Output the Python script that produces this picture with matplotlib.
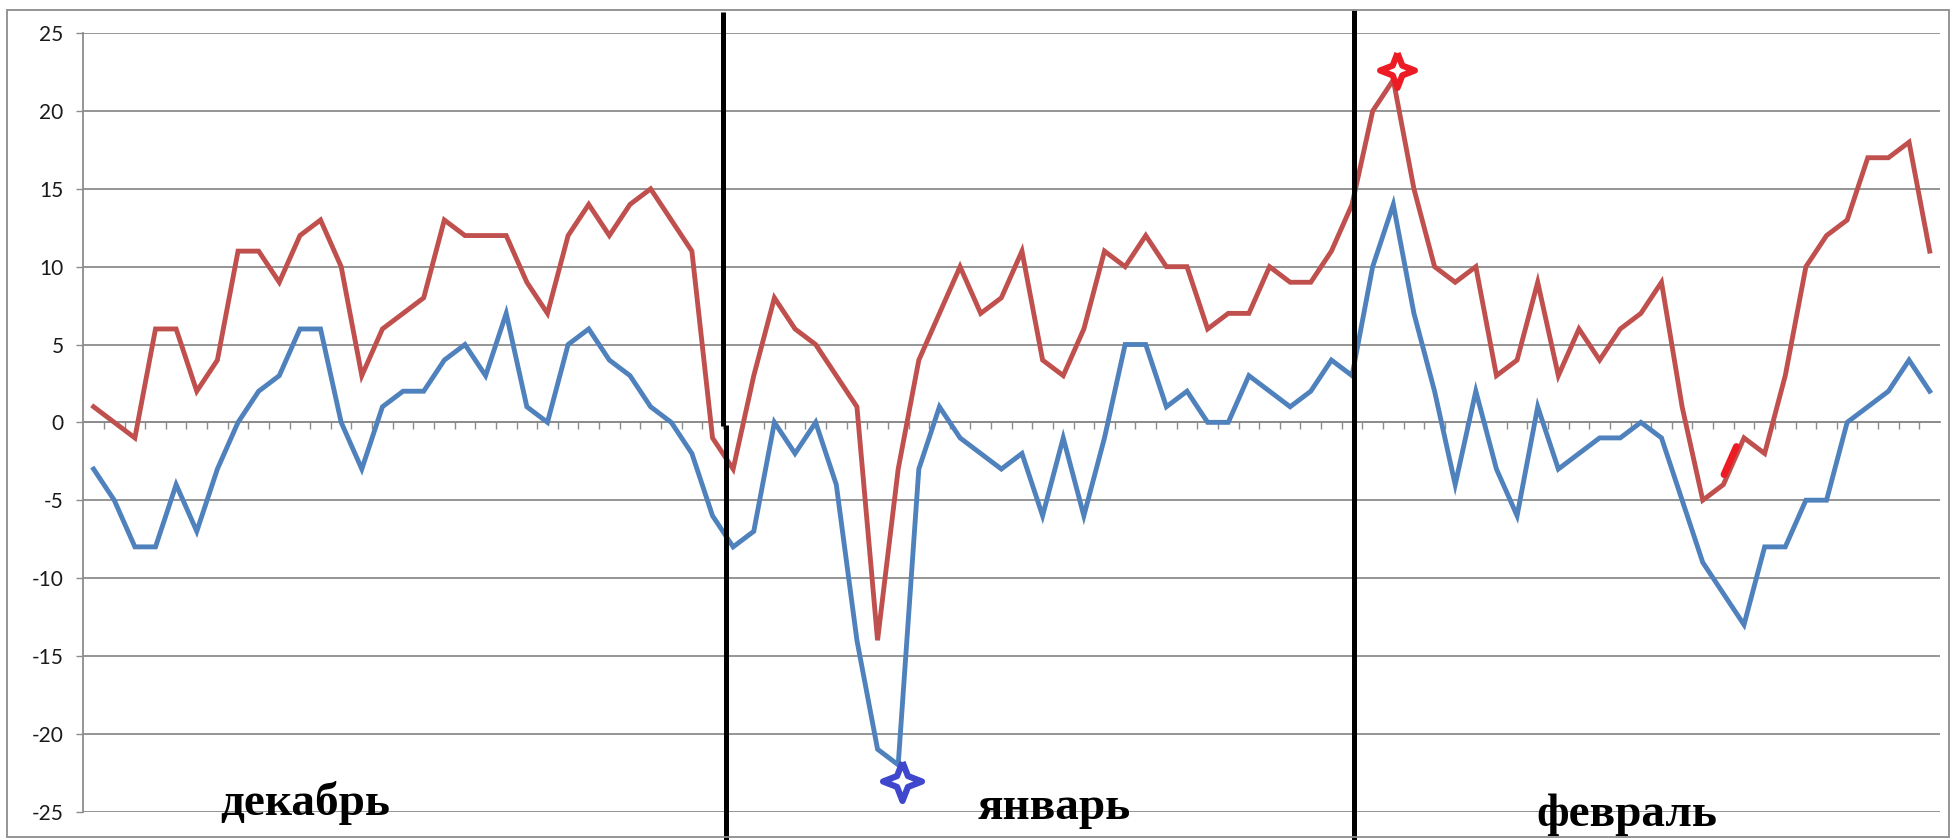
import numpy as np
import matplotlib
matplotlib.use("Agg")
import matplotlib.pyplot as plt
from matplotlib.path import Path
from matplotlib.patches import Rectangle
from matplotlib.transforms import offset_copy, blended_transform_factory

plt.rcParams["axes.unicode_minus"] = False

# daily max / min temperatures
dec_max = [1, 0, -1, 6, 6, 2, 4, 11, 11, 9, 12, 13, 10, 3, 6, 7, 8, 13, 12, 12,
           12, 9, 7, 12, 14, 12, 14, 15, 13, 11, -1]
dec_min = [-3, -5, -8, -8, -4, -7, -3, 0, 2, 3, 6, 6, 0, -3, 1, 2, 2, 4, 5, 3,
           7, 1, 0, 5, 6, 4, 3, 1, 0, -2, -6]
jan_max = [-3, 3, 8, 6, 5, 3, 1, -14, -3, 4, 7, 10, 7, 8, 11, 4, 3, 6, 11, 10,
           12, 10, 10, 6, 7, 7, 10, 9, 9, 11, 14]
jan_min = [-8, -7, 0, -2, 0, -4, -14, -21, -22, -3, 1, -1, -2, -3, -2, -6, -1, -6, -1, 5,
           5, 1, 2, 0, 0, 3, 2, 1, 2, 4, 3]
feb_max = [20, 22, 15, 10, 9, 10, 3, 4, 9, 3, 6, 4, 6, 7, 9, 1, -5, -4, -1, -2,
           3, 10, 12, 13, 17, 17, 18, 11]
feb_min = [10, 14, 7, 2, -4, 2, -3, -6, 1, -3, -2, -1, -1, 0, -1, -5, -9, -11, -13, -8,
           -8, -5, -5, 0, 1, 2, 4, 2]

months = ["декабрь", "январь", "февраль"]
y_ticks = list(range(-25, 26, 5))

t_max = np.array(dec_max + jan_max + feb_max)
t_min = np.array(dec_min + jan_min + feb_min)
n = len(t_max)
x = np.arange(n)

W, H = 1954, 840
fig = plt.figure(figsize=(W / 100, H / 100), dpi=100)
ax = fig.add_axes([83.3 / W, 1 - 811.5 / H, (1940 - 83.3) / W, (811.5 - 33.2) / H])

GRID = "#8c8c8c"
ax.set_xlim(-0.5, n - 0.5)
ax.set_ylim(-25, 25)
ax.set_yticks(y_ticks)
ax.yaxis.grid(True, color=GRID, linewidth=1.3)
ax.set_axisbelow(True)

for s in ["top", "right"]:
    ax.spines[s].set_visible(False)
ax.spines["left"].set_color(GRID)
ax.spines["left"].set_linewidth(1.3)
ax.spines["bottom"].set_position(("data", 0))
ax.spines["bottom"].set_color(GRID)
ax.spines["bottom"].set_linewidth(1.3)

ax.set_xticks(np.arange(0.5, n - 0.5, 1.0))
ax.set_xticklabels([])
ax.tick_params(axis="x", direction="out", length=5.3, width=1.0, color=GRID)
ax.tick_params(axis="y", direction="out", length=5.3, width=1.0, color=GRID,
               pad=9.0, labelsize=15, labelcolor="#1a1a1a")
for lab in ax.get_yticklabels():
    lab.set_family(["Lato", "DejaVu Sans"])

ax.plot(x, t_max, color="#C0504D", linewidth=3.5, solid_joinstyle="miter", zorder=3)
ax.plot(x, t_min, color="#4F81BD", linewidth=3.5, solid_joinstyle="miter", zorder=3)

# month dividers (hand drawn)
bt = blended_transform_factory(ax.transData, ax.transAxes)
d1 = len(dec_max)
d2 = len(dec_max) + len(jan_max)
ax.plot([d1 - 0.47, d1 - 0.47], [1.027, 0.495], color="black", lw=3.6,
        transform=bt, clip_on=False, zorder=5, solid_capstyle="butt")
ax.plot([d1 - 0.33, d1 - 0.33], [0.497, -0.04], color="black", lw=3.6,
        transform=bt, clip_on=False, zorder=5, solid_capstyle="butt")
ax.plot([d2 - 0.9, d2 - 0.9], [1.03, -0.04], color="black", lw=3.6,
        transform=bt, clip_on=False, zorder=5, solid_capstyle="butt")

# four-point stars at the extremes
k = 0.28
star = Path([(0, 1), (k, k), (1, 0), (k, -k), (0, -1), (-k, -k), (-1, 0), (-k, k), (0, 1)])
i_lo = int(np.argmin(t_min))
i_hi = int(np.argmax(t_max))
ax.plot([i_lo], [t_min[i_lo]], marker=star, markersize=28, markeredgewidth=4.5,
        markeredgecolor="#3F48CC", markerfacecolor="white", linestyle="none",
        transform=offset_copy(ax.transData, fig=fig, x=3, y=-12, units="points"),
        zorder=6, clip_on=False)
ax.plot([i_hi], [t_max[i_hi]], marker=star, markersize=25, markeredgewidth=4.5,
        markeredgecolor="#ED1C24", markerfacecolor="white", linestyle="none",
        transform=offset_copy(ax.transData, fig=fig, x=3, y=7, units="points"),
        zorder=6, clip_on=False)

# small red stroke near the February dip
i_m = len(dec_max) + len(jan_max) + 17
fr = np.array([0.2, 0.45, 0.8])
sx = i_m + fr
sy = t_max[i_m] + fr * (t_max[i_m + 1] - t_max[i_m])
ax.plot(sx, sy, color="#ED1C24", lw=5.0, solid_capstyle="round",
        transform=offset_copy(ax.transData, fig=fig, x=-2.5, y=0.5, units="points"),
        zorder=6)

# month captions
cap_pos = [(305, 815), (1054, 819), (1627, 826)]
for name, (px, py) in zip(months, cap_pos):
    fig.text(px / W, 1 - py / H, name, ha="center", va="baseline",
             fontsize=34, fontweight="bold", family=["Liberation Serif", "DejaVu Serif"],
             color="black", zorder=7)

# chart border
fig.patches.append(Rectangle((6.7 / W, 1 - 836.6 / H), (1949 - 6.7) / W, (836.6 - 9.6) / H,
                             transform=fig.transFigure, fill=False,
                             edgecolor="#8c8c8c", linewidth=1.3))

fig.savefig("out.png", dpi=100)
